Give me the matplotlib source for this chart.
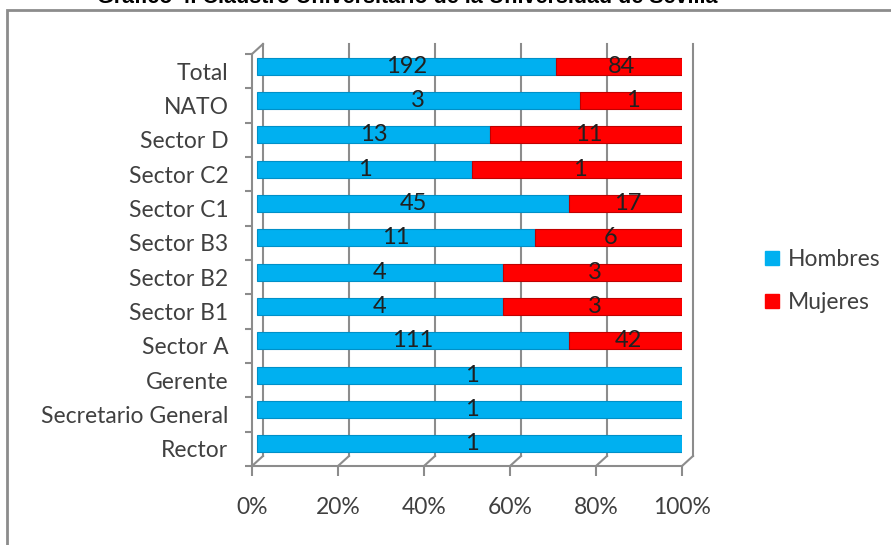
import numpy as np
import matplotlib.pyplot as plt
import matplotlib.transforms as mtransforms
from matplotlib.patches import Rectangle, Patch

categorias = ["Rector", "Secretario General", "Gerente", "Sector A", "Sector B1",
              "Sector B2", "Sector B3", "Sector C1", "Sector C2", "Sector D",
              "NATO", "Total"]
hombres = np.array([1, 1, 1, 111, 4, 4, 11, 45, 1, 13, 3, 192])
mujeres = np.array([0, 0, 0, 42, 3, 3, 6, 17, 1, 11, 1, 84])
ticks_x = [0, 20, 40, 60, 80, 100]
titulo = "Gráfico 4. Claustro Universitario de la Universidad de Sevilla"

azul = "#00b0f0"
rojo = "#ff0000"
gris = "#8c8c8c"
texto = "#404040"

plt.rcParams["font.family"] = ["Lato", "DejaVu Sans"]

W, H = 891, 545
fig = plt.figure(figsize=(W / 100, H / 100), dpi=100)
ax = fig.add_axes([252 / W, 1 - 466 / H, 430 / W, 412 / H])
ax.set_xlim(0, 100)
ax.set_ylim(-0.5, 11.5)

total = hombres + mujeres
p_h = hombres / total * 100
p_m = mujeres / total * 100
y = np.arange(len(categorias))

# desplazamientos para simular la profundidad 3D
fondo = mtransforms.offset_copy(ax.transData, fig=fig, x=11, y=10, units="dots")
medio = mtransforms.offset_copy(ax.transData, fig=fig, x=5, y=5, units="dots")

# pared del fondo
for xv in ticks_x:
    ax.plot([xv, xv], [-0.5, 11.5], color=gris, lw=1.5, transform=fondo, clip_on=False, zorder=1)
# esquinas de la pared lateral y diagonales del suelo
esquinas = [(0, 11.5)] + [(xv, -0.5) for xv in ticks_x]
for xv, yv in esquinas:
    x0, y0 = ax.transData.transform((xv, yv))
    ax.plot([x0, x0 + 11], [y0, y0 + 10], color=gris, lw=1.5, transform=None,
            clip_on=False, scalex=False, scaley=False, zorder=1)

# barras apiladas al 100 %
ax.barh(y, p_h, height=0.5, color=azul, edgecolor="#0090c8", lw=0.8, transform=medio,
        zorder=3)
ax.barh(y, p_m, left=p_h, height=0.5, color=rojo, edgecolor="#c00000", lw=0.8,
        transform=medio, zorder=3)

for i in y:
    ax.text(p_h[i] / 2, i, str(hombres[i]), ha="center", va="center", fontsize=17,
            color="#202020", transform=medio, zorder=4)
    if mujeres[i] > 0:
        ax.text(p_h[i] + p_m[i] / 2, i, str(mujeres[i]), ha="center", va="center",
                fontsize=17, color="#202020", transform=medio, zorder=4)

ax.patch.set_visible(False)
ax.spines[["top", "right"]].set_visible(False)
ax.spines[["left", "bottom"]].set_color(gris)
ax.spines[["left", "bottom"]].set_linewidth(1.5)

ax.set_xticks(ticks_x, [f"{t}%" for t in ticks_x])
ax.tick_params(axis="x", length=7, width=1.5, color=gris, pad=15.5, labelsize=16.5,
               labelcolor=texto)
ax.set_yticks(y, categorias)
ax.set_yticks(np.arange(-0.5, 12, 1), minor=True)
ax.tick_params(axis="y", which="major", length=0, pad=17, labelsize=16.5, labelcolor=texto)
ax.tick_params(axis="y", which="minor", length=5, width=1.5, color=gris)

ax.legend(handles=[Patch(color=azul), Patch(color=rojo)], labels=["Hombres", "Mujeres"],
          loc="center left", bbox_to_anchor=(765 / W, 1 - 281 / H),
          bbox_transform=fig.transFigure, frameon=False, fontsize=16.5, borderpad=0,
          borderaxespad=0, handlelength=0.6, handleheight=0.6, handletextpad=0.4,
          labelspacing=0.95, labelcolor=texto)

fig.add_artist(Rectangle((7 / W, -0.05), 1.1, 1 - 10 / H + 0.05, transform=fig.transFigure,
                         fill=False, edgecolor=gris, lw=2))
fig.text(407 / W, 1 - 3 / H, titulo, ha="center", va="baseline", fontsize=15.5,
         weight="bold", family="Liberation Sans")

fig.savefig("out.png", dpi=100)
